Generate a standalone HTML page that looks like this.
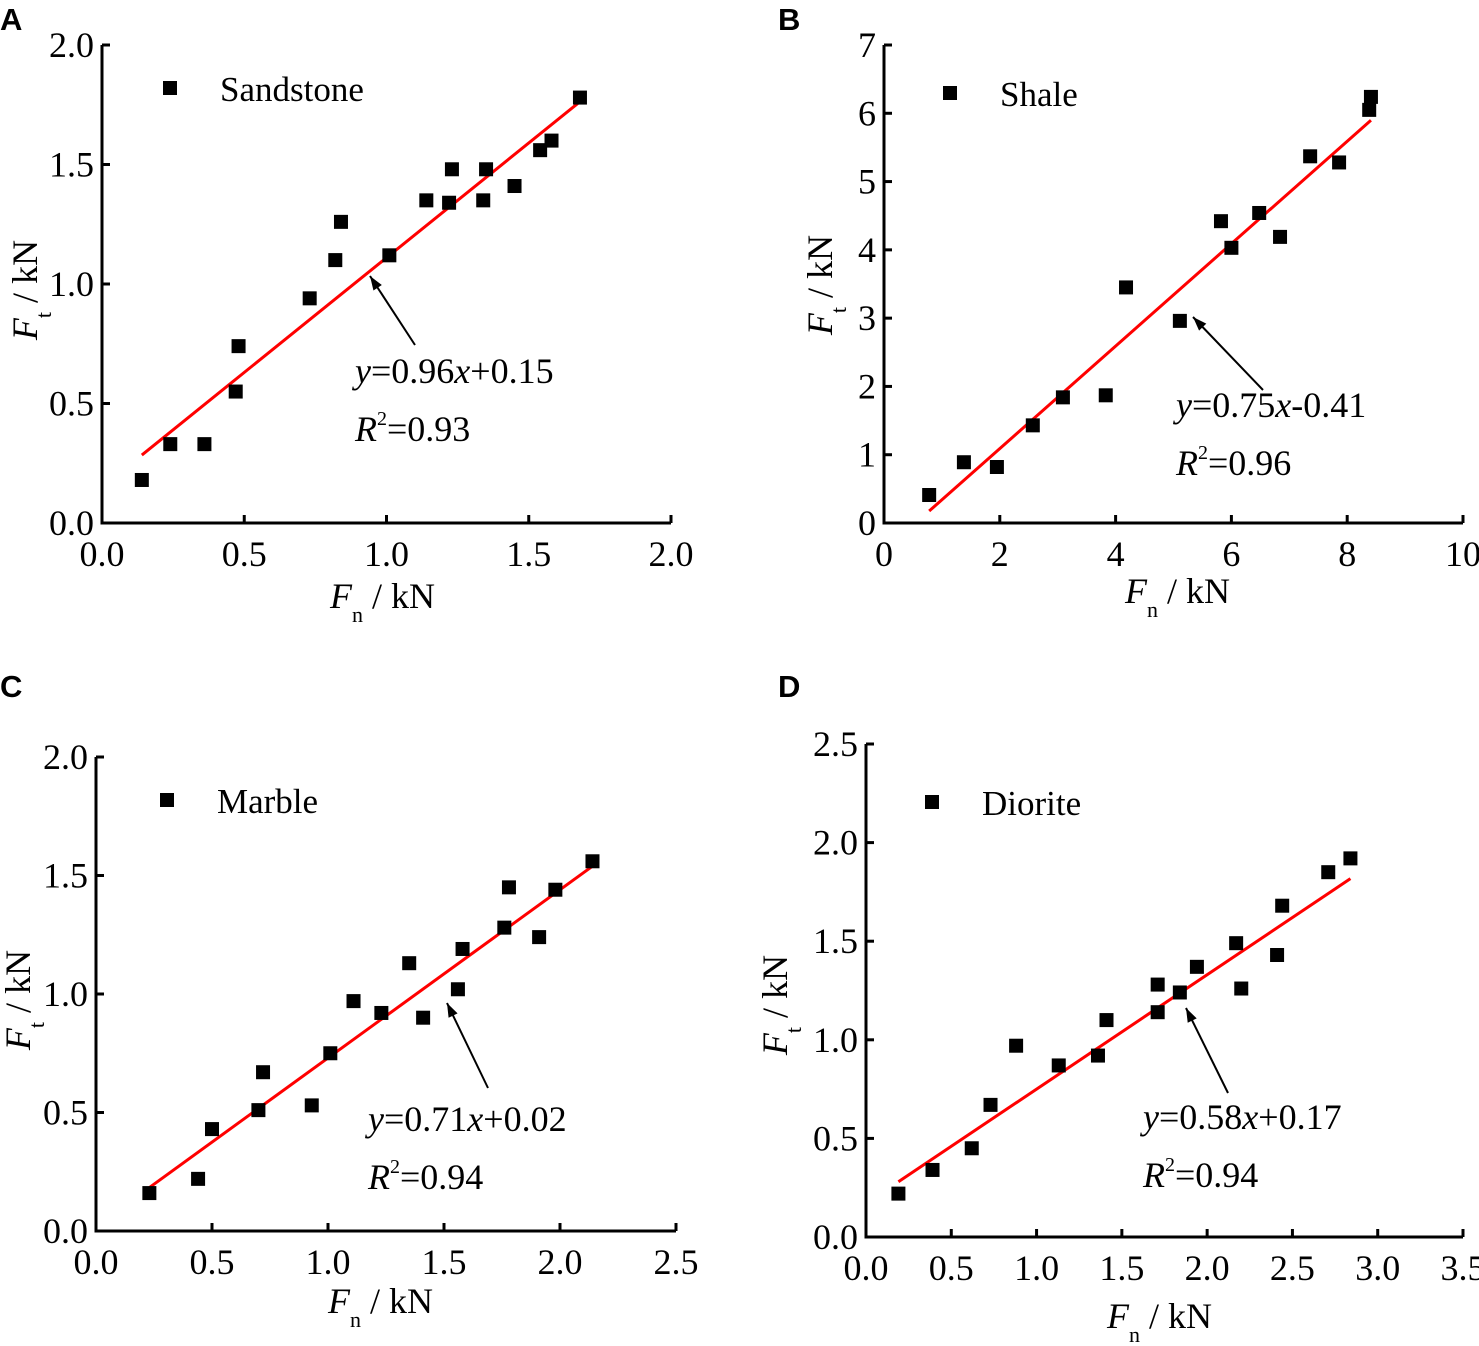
<!DOCTYPE html>
<html><head><meta charset="utf-8"><style>
html,body{margin:0;padding:0;background:#fff}
svg{display:block}
text{font-family:"Liberation Serif",serif;fill:#000}
.pl{font-family:"Liberation Sans",sans-serif;font-weight:bold;font-size:31px}
</style></head><body>
<svg id="fig" width="1479" height="1346" viewBox="0 0 1479 1346"></svg>
<script>
const aX=[0.14,0.24,0.36,0.47,0.48,0.73,0.82,0.84,1.01,1.14,1.22,1.23,1.34,1.35,1.45,1.54,1.58,1.68];
const aY=[0.18,0.33,0.33,0.55,0.74,0.94,1.10,1.26,1.12,1.35,1.34,1.48,1.35,1.48,1.41,1.56,1.60,1.78];
const bX=[0.78,1.38,1.95,2.57,3.09,3.83,4.18,5.11,5.82,6.00,6.48,6.84,7.36,7.86,8.38,8.41];
const bY=[0.41,0.89,0.82,1.43,1.84,1.87,3.45,2.96,4.42,4.03,4.54,4.19,5.37,5.28,6.05,6.24];
const cX=[0.23,0.44,0.50,0.70,0.72,0.93,1.01,1.11,1.23,1.35,1.41,1.56,1.58,1.76,1.78,1.91,1.98,2.14];
const cY=[0.16,0.22,0.43,0.51,0.67,0.53,0.75,0.97,0.92,1.13,0.90,1.02,1.19,1.28,1.45,1.24,1.44,1.56];
const dX=[0.19,0.39,0.62,0.73,0.88,1.13,1.36,1.41,1.71,1.71,1.84,1.94,2.17,2.20,2.41,2.44,2.71,2.84];
const dY=[0.22,0.34,0.45,0.67,0.97,0.87,0.92,1.10,1.28,1.14,1.24,1.37,1.49,1.26,1.43,1.68,1.85,1.92];
const aTicksX=["0.0","0.5","1.0","1.5","2.0"], aTicksY=["0.0","0.5","1.0","1.5","2.0"];
const bTicksX=["0","2","4","6","8","10"], bTicksY=["0","1","2","3","4","5","6","7"];
const cTicksX=["0.0","0.5","1.0","1.5","2.0","2.5"], cTicksY=["0.0","0.5","1.0","1.5","2.0"];
const dTicksX=["0.0","0.5","1.0","1.5","2.0","2.5","3.0","3.5"], dTicksY=["0.0","0.5","1.0","1.5","2.0","2.5"];
const fitA=[0.96,0.15], fitB=[0.75,-0.41], fitC=[0.71,0.02], fitD=[0.58,0.17];

const NS="http://www.w3.org/2000/svg";
const svg=document.getElementById('fig');
function mk(tag,attrs,parent){const e=document.createElementNS(NS,tag);for(const k in attrs)e.setAttribute(k,attrs[k]);(parent||svg).appendChild(e);return e;}

const panels=[
 {id:'a',L:'A',lx:0,ly:30,x0:102,y0:523,x1:671,y1:45,xmax:2,ymax:2,X:aX,Y:aY,tx:aTicksX,ty:aTicksY,fit:fitA,name:'Sandstone',legx:170,legy:88,
  eq:['0.96','+0.15','0.93'],eqx:355,eqy:383,arr:[415,345,370,276],xt:[330,608],yt:[37,290]},
 {id:'b',L:'B',lx:778,ly:30,x0:884,y0:523,x1:1463,y1:45,xmax:10,ymax:7,X:bX,Y:bY,tx:bTicksX,ty:bTicksY,fit:fitB,name:'Shale',legx:950,legy:93,
  eq:['0.75','-0.41','0.96'],eqx:1176,eqy:417,arr:[1263,390,1193,317],xt:[1125,603],yt:[832,285]},
 {id:'c',L:'C',lx:0,ly:697,x0:96,y0:1231,x1:676,y1:757,xmax:2.5,ymax:2,X:cX,Y:cY,tx:cTicksX,ty:cTicksY,fit:cFitWrap=fitC,name:'Marble',legx:167,legy:800,
  eq:['0.71','+0.02','0.94'],eqx:368,eqy:1131,arr:[488,1088,447,1003],xt:[328,1313],yt:[30,1000]},
 {id:'d',L:'D',lx:778,ly:697,x0:866,y0:1237,x1:1463,y1:744,xmax:3.5,ymax:2.5,X:dX,Y:dY,tx:dTicksX,ty:dTicksY,fit:fitD,name:'Diorite',legx:932,legy:802,
  eq:['0.58','+0.17','0.94'],eqx:1143,eqy:1129,arr:[1228,1093,1186,1008],xt:[1107,1328],yt:[787,1005]}
];

panels.forEach(p=>{
 const g=mk('g',{});
 
 
 const sx=v=>p.x0+(p.x1-p.x0)*v/p.xmax;
 const sy=v=>p.y0-(p.y0-p.y1)*v/p.ymax;
 const lab=mk('text',{x:p.lx,y:p.ly,class:'pl'},g);lab.textContent=p.L;
 
 
 // axes
 const ax=mk('path',{d:`M${p.x0} ${p.y1}V${p.y0}H${p.x1}`,stroke:'#000','stroke-width':3,fill:'none'},g);
 
 
 p.tx.forEach((t,i)=>{
  const v=p.xmax*i/(p.tx.length-1), x=sx(v);
  mk('line',{x1:x,y1:p.y0,x2:x,y2:p.y0-8,stroke:'#000','stroke-width':3},g);
  const tt=mk('text',{x:x,y:p.y0+43,'font-size':36,'text-anchor':'middle'},g);tt.textContent=t;
  
  
 });
 p.ty.forEach((t,i)=>{
  const v=p.ymax*i/(p.ty.length-1), y=sy(v);
  mk('line',{x1:p.x0,y1:y,x2:p.x0+8,y2:y,stroke:'#000','stroke-width':3},g);
  const tt=mk('text',{x:p.x0-8,y:y+12,'font-size':36,'text-anchor':'end'},g);tt.textContent=t;
  
  
 });
 // axis titles
 const xt=mk('text',{x:p.xt[0],y:p.xt[1],'font-size':36},g);
 xt.innerHTML='<tspan font-style="italic">F</tspan><tspan font-size="22" dy="14">n</tspan><tspan dy="-14"> / kN</tspan>';
 
 
 const yt=mk('text',{x:0,y:0,'font-size':36,'text-anchor':'middle',transform:`translate(${p.yt[0]},${p.yt[1]}) rotate(-90)`},g);
 yt.innerHTML='<tspan font-style="italic">F</tspan><tspan font-size="22" dy="14">t</tspan><tspan dy="-14"> / kN</tspan>';
 
 
 // fit line
 const xa=Math.min(...p.X), xb=Math.max(...p.X);
 const fl=mk('line',{x1:sx(xa),y1:sy(p.fit[0]*xa+p.fit[1]),x2:sx(xb),y2:sy(p.fit[0]*xb+p.fit[1]),stroke:'#f00','stroke-width':3},g);
 
 
 // points
 p.X.forEach((xv,i)=>{
  const r=mk('rect',{x:sx(xv)-7,y:sy(p.Y[i])-7,width:14,height:14,fill:'#000'},g);
  
  
 });
 // legend
 const lm=mk('rect',{x:p.legx-7,y:p.legy-7,width:14,height:14,fill:'#000'},g);
 
 
 const lt=mk('text',{x:p.legx+50,y:p.legy+13,'font-size':35},g);lt.textContent=p.name;
 
 
 // annotation
 const a=p.arr, ang=Math.atan2(a[3]-a[1],a[2]-a[0]);
 const ar=mk('line',{x1:a[0],y1:a[1],x2:a[2],y2:a[3],stroke:'#000','stroke-width':2},g);
 
 
 const h=14,w=5;
 const bx=a[2]-h*Math.cos(ang), by=a[3]-h*Math.sin(ang);
 mk('polygon',{points:`${a[2]},${a[3]} ${bx+w*Math.sin(ang)},${by-w*Math.cos(ang)} ${bx-w*Math.sin(ang)},${by+w*Math.cos(ang)}`,fill:'#000'},g);
 const e1=mk('text',{x:p.eqx,y:p.eqy,'font-size':36},g);
 e1.innerHTML=`<tspan font-style="italic">y</tspan>=${p.eq[0]}<tspan font-style="italic">x</tspan>${p.eq[1]}`;
 
 
 const e2=mk('text',{x:p.eqx,y:p.eqy+58,'font-size':36},g);
 e2.innerHTML=`<tspan font-style="italic">R</tspan><tspan font-size="20" dy="-16">2</tspan><tspan dy="16">=${p.eq[2]}</tspan>`;
 
 
});
</script>
</body></html>
